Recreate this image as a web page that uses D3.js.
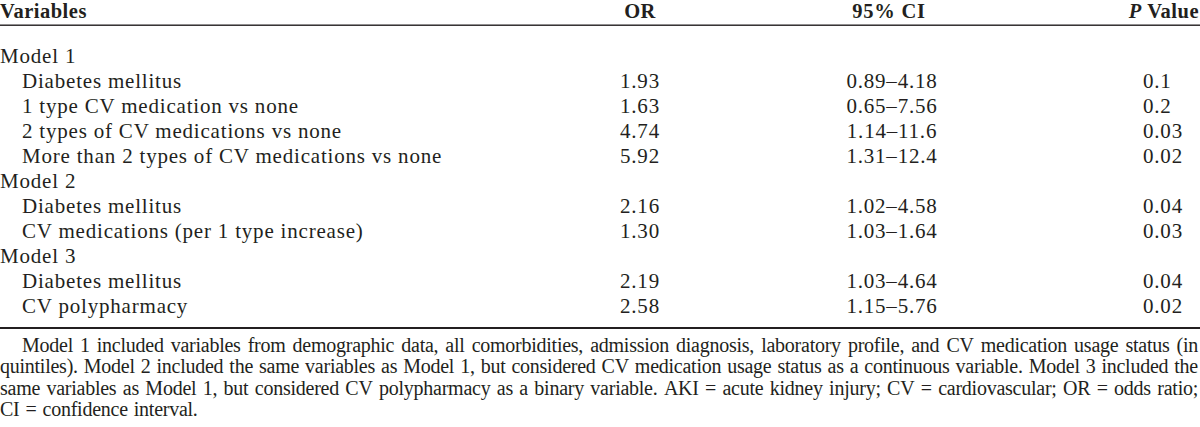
<!DOCTYPE html>
<html><head><meta charset="utf-8">
<script src="https://cdn.jsdelivr.net/npm/d3@7"></script>
<style>
html,body{margin:0;padding:0;background:#fff;}
svg{display:block;}
text{font-family:"Liberation Serif","Times New Roman",serif;fill:#231f20;}
</style></head>
<body><svg id="c" width="1200" height="427"></svg>
<script>
const headers = ["Variables", "OR", "95% CI", "P Value"];
const labels = ["Model 1","Diabetes mellitus","1 type CV medication vs none","2 types of CV medications vs none","More than 2 types of CV medications vs none","Model 2","Diabetes mellitus","CV medications (per 1 type increase)","Model 3","Diabetes mellitus","CV polypharmacy"];
const levels = [0,1,1,1,1,0,1,1,0,1,1];
const orValues = ["","1.93","1.63","4.74","5.92","","2.16","1.30","","2.19","2.58"];
const ciValues = ["","0.89\u20134.18","0.65\u20137.56","1.14\u201311.6","1.31\u201312.4","","1.02\u20134.58","1.03\u20131.64","","1.03\u20134.64","1.15\u20135.76"];
const pValues = ["","0.1","0.2","0.03","0.02","","0.04","0.03","","0.04","0.02"];
const footLines = [
 "Model 1 included variables from demographic data, all comorbidities, admission diagnosis, laboratory profile, and CV medication usage status (in",
 "quintiles). Model 2 included the same variables as Model 1, but considered CV medication usage status as a continuous variable. Model 3 included the",
 "same variables as Model 1, but considered CV polypharmacy as a binary variable. AKI = acute kidney injury; CV = cardiovascular; OR = odds ratio;",
 "CI = confidence interval."
];

const svg = d3.select("#c");
const W = 1200;
const fs = 21, ls = 0.8;

// header
const hy = 18, hfs = 20.5;
svg.append("text").attr("x",0).attr("y",hy).attr("font-size",hfs).attr("font-weight","bold").attr("letter-spacing",0.5).text(headers[0]);
svg.append("text").attr("x",640).attr("y",hy).attr("text-anchor","middle").attr("font-size",hfs).attr("font-weight","bold").attr("letter-spacing",0.5).text(headers[1]);
svg.append("text").attr("x",889).attr("y",hy).attr("text-anchor","middle").attr("font-size",hfs).attr("font-weight","bold").attr("letter-spacing",0.8).text(headers[2]);
const ph = svg.append("text").attr("x",1199).attr("y",hy).attr("text-anchor","end").attr("font-size",hfs).attr("font-weight","bold").attr("letter-spacing",0.5);
ph.append("tspan").attr("font-style","italic").text(headers[3].split(" ")[0]);
ph.append("tspan").text(" " + headers[3].split(" ")[1]);

svg.append("rect").attr("x",0).attr("y",24.5).attr("width",W).attr("height",1.4).attr("fill","#231f20");

const y = d3.scaleLinear().domain([0, labels.length-1]).range([63, 313]);
const rows = svg.append("g").selectAll("g").data(labels).join("g").attr("transform",(d,i)=>`translate(0,${y(i)})`);
rows.append("text").attr("x",(d,i)=>levels[i]?22:0).attr("font-size",fs).attr("letter-spacing",ls).text(d=>d);
rows.append("text").attr("x",640).attr("text-anchor","middle").attr("font-size",fs).attr("letter-spacing",ls).text((d,i)=>orValues[i]);
rows.append("text").attr("x",892).attr("text-anchor","middle").attr("font-size",fs).attr("letter-spacing",ls).text((d,i)=>ciValues[i]);
rows.append("text").attr("x",1143).attr("font-size",fs).attr("letter-spacing",ls).text((d,i)=>pValues[i]);

svg.append("rect").attr("x",0).attr("y",327).attr("width",W).attr("height",2).attr("fill","#231f20");

// footnote, justified
const ffs = 20;
const fy = d3.scaleLinear().domain([0,3]).range([352, 416]);
footLines.forEach((line,i)=>{
  const x0 = i===0 ? 22 : 0, x1 = 1198;
  const words = line.split(" ");
  const g = svg.append("g");
  const ts = words.map(w=>g.append("text").attr("y",fy(i)).attr("font-size",ffs).attr("letter-spacing",-0.25).text(w));
  const widths = ts.map(t=>t.node().getComputedTextLength());
  const total = d3.sum(widths);
  const justify = i < footLines.length-1;
  const gap = justify ? (x1-x0-total)/(words.length-1) : 6;
  let x = x0;
  ts.forEach((t,k)=>{ t.attr("x",x); x += widths[k] + gap; });
});
</script></body></html>
